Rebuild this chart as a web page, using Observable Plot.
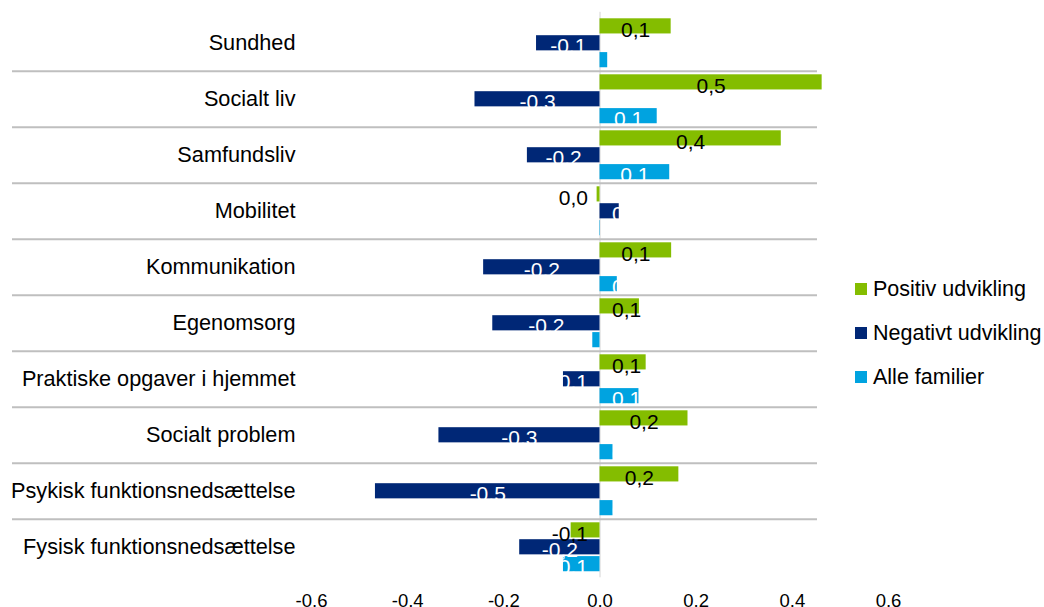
<!DOCTYPE html>
<html>
<head>
<meta charset="utf-8">
<script src="https://cdn.jsdelivr.net/npm/d3@7"></script>
<script src="https://cdn.jsdelivr.net/npm/@observablehq/plot@0.6"></script>
<style>
  body { margin: 0; background: #fff; font-family: "Liberation Sans", Arial, sans-serif; }
  #wrap { position: relative; width: 1044px; height: 607px; }
  #wrap svg { display: block; }
  #legend { position: absolute; left: 855px; top: 267px; }
  .item { display: flex; align-items: center; height: 44px; font-size: 21.5px; color: #000; white-space: nowrap; }
  .sw { width: 12px; height: 12px; margin-right: 6px; flex: none; }
</style>
</head>
<body>
<div id="wrap"><div id="legend"></div></div>
<script>
// Domains, in drawing order from top to bottom
const categories = [
  "Sundhed",
  "Socialt liv",
  "Samfundsliv",
  "Mobilitet",
  "Kommunikation",
  "Egenomsorg",
  "Praktiske opgaver i hjemmet",
  "Socialt problem",
  "Psykisk funktionsnedsættelse",
  "Fysisk funktionsnedsættelse"
];
const seriesNames = ["Positiv udvikling", "Negativt udvikling", "Alle familier"];
const seriesColors = ["#84bd00", "#002776", "#00a3e0"];
const labelColors = ["#000000", "#ffffff", "#ffffff"];

// Mean change per area
const positivValues = [0.148, 0.462, 0.377, -0.006, 0.149, 0.082, 0.096, 0.183, 0.164, -0.060];
const negativValues = [-0.132, -0.260, -0.151, 0.040, -0.242, -0.223, -0.076, -0.335, -0.467, -0.167];
const alleValues = [0.016, 0.119, 0.145, -0.001, 0.036, -0.015, 0.081, 0.027, 0.027, -0.076];

const xTicks = [-0.6, -0.4, -0.2, 0, 0.2, 0.4, 0.6];

// Layout
const W = 1044, H = 607;
const mT = 11.8, mB = 29.7, mL = 311, mR = 156;
const xDomain = [-0.6, 0.6];
const band = (H - mT - mB) / categories.length;
const barH = 15.7;
const rowTop = [3.3, 20.2, 37.1];          // bar offset inside each category band
const textShift = 3.4;                       // labels sit slightly below bar centre
const k = (W - mL - mR) / (xDomain[1] - xDomain[0]);   // px per unit
const sepLeftPx = 12, sepRightPx = 817;     // horizontal extent of category separators
const toData = px => (px - mL) / k + xDomain[0];

const comma = s => s.replace(".", ",");
const fmtValue = v => comma(Math.abs(v) < 0.05 ? "0.0" : v.toFixed(1));
const fmtTick = v => comma(v.toFixed(1));

// Centre labels in their bar, but keep them clear of the zero line
const ctx = document.createElement("canvas").getContext("2d");
ctx.font = "21px 'Liberation Sans', Arial, sans-serif";
function labelX(v) {
  const half = ctx.measureText(fmtValue(v)).width / 2 / k;
  const gap = 12 / k;
  const c = v / 2;
  return v >= 0 ? Math.max(c, gap + half) : Math.min(c, -gap - half);
}

const seriesValues = [positivValues, negativValues, alleValues];
const rows = seriesValues.map((vals, s) =>
  categories.map((category, i) => ({category, series: seriesNames[s], value: vals[i]}))
);

const barMarks = rows.map((data, s) =>
  Plot.barX(data, {
    x: "value",
    y: "category",
    fill: seriesColors[s],
    insetTop: rowTop[s],
    insetBottom: band - rowTop[s] - barH
  })
);
const labelMarks = rows.map((data, s) =>
  Plot.text(data, {
    x: d => labelX(d.value),
    y: "category",
    text: d => fmtValue(d.value),
    fill: labelColors[s],
    fontSize: 21,
    dy: rowTop[s] + barH / 2 - band / 2 + textShift
  })
);

const chart = Plot.plot({
  width: W,
  height: H,
  marginTop: mT,
  marginBottom: mB,
  marginLeft: mL,
  marginRight: mR,
  x: {domain: xDomain},
  y: {domain: categories, padding: 0},
  style: {fontFamily: "'Liberation Sans', Arial, sans-serif", color: "#000", background: "transparent", overflow: "visible"},
  marks: [
    Plot.ruleX([0], {stroke: "#d4d4d4", strokeWidth: 1}),
    ...barMarks,
    ...labelMarks,
    Plot.ruleY(categories.slice(1), {
      y: d => d,
      dy: -band / 2,
      x1: toData(sepLeftPx),
      x2: toData(sepRightPx),
      stroke: "#bfbfbf",
      strokeWidth: 2
    }),
    Plot.axisY({tickSize: 0, tickPadding: 16, fontSize: 21.7, label: null}),
    Plot.axisX({ticks: xTicks, tickSize: 0, tickPadding: 15.8, fontSize: 18.5, tickFormat: fmtTick, label: null})
  ]
});

const wrap = document.getElementById("wrap");
wrap.insertBefore(chart, wrap.firstChild);

// Legend
const legend = d3.select("#legend");
seriesNames.forEach((name, s) => {
  const item = legend.append("div").attr("class", "item");
  item.append("span").attr("class", "sw").style("background", seriesColors[s]);
  item.append("span").text(name);
});
</script>
</body>
</html>
